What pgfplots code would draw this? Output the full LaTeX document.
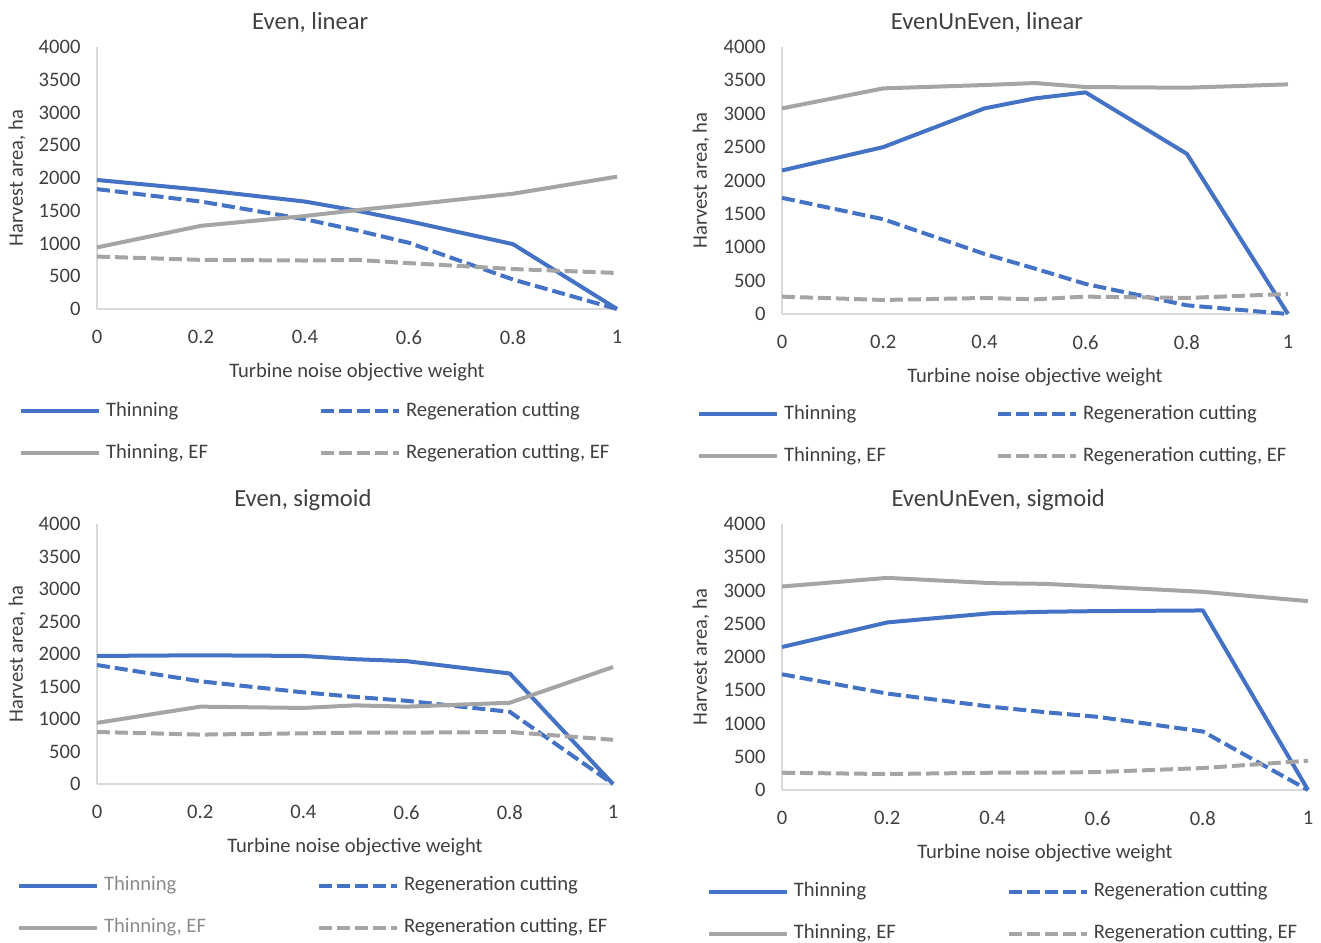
\documentclass[border=0pt]{standalone}
\usepackage{pgfplots}
\pgfplotsset{compat=1.18}
\usepackage{fontspec}
\setmainfont{Carlito}
\definecolor{cblue}{HTML}{4472C4}
\definecolor{cgray}{HTML}{A5A5A5}
\definecolor{ctext}{HTML}{404040}
\definecolor{cleg}{HTML}{8C8C8C}
\definecolor{caxis}{HTML}{D9D9D9}
\newcommand{\lf}{\fontsize{20.6}{24}\selectfont}
\pgfplotsset{
 panel/.style={
  scale only axis, clip=false,
  xmin=0,xmax=1,ymin=0,ymax=4000,
  xtick={0,0.2,0.4,0.6,0.8,1},
  xticklabels={0,0.2,0.4,0.6,0.8,1},
  ytick={0,500,...,4000},
  axis x line=bottom, axis y line=left,
  axis line style={-, draw=caxis, line width=1.5pt},
  major tick length=0pt,
  tick style={draw=none},
  /pgf/number format/assume math mode=true,
  /pgf/number format/1000 sep={},
  ticklabel style={font=\lf, text=ctext},
  yticklabel style={xshift=-13pt},
  xticklabel style={yshift=-18pt},
  label style={font=\lf, text=ctext},
  xlabel={Turbine noise objective weight},
  ylabel={Harvest area, ha},
  title style={font=\fontsize{24.6}{28}\selectfont, text=ctext, anchor=center},
  legend columns=2,
  legend cell align=left,
  legend style={draw=none, fill=none, inner sep=0pt, outer sep=0pt, anchor=west, font=\lf, text=ctext, row sep=24pt, nodes={inner sep=0pt, text height=14pt, text depth=4pt}},
  legend image code/.code={\draw[##1] (0pt,0pt) -- (78pt,0pt); \path (83pt,0pt);},
  every axis plot/.append style={line width=4pt, line join=round},
 },
 thn/.style={cblue, solid},
 reg/.style={cblue, dash pattern=on 13pt off 5pt},
 thnef/.style={cgray, solid},
 regef/.style={cgray, dash pattern=on 13pt off 5pt},
}
\begin{document}
\begin{tikzpicture}
\useasboundingbox (0pt,0pt) rectangle (1321pt,942pt);
% Panel 1
\begin{axis}[panel, at={(97pt,633pt)}, anchor=south west, width=520pt, height=262pt,
  title={Even, linear}, title style={at={(0.41,1.072)}},
  xlabel style={at={(0.5,-0.24)}, anchor=center},
  ylabel style={at={(-0.154,0.5)}, anchor=center},
  legend style={at={(-0.15,-0.47)}}]
\addplot[thn] coordinates {(0,1970) (0.2,1820) (0.4,1640) (0.5,1500) (0.6,1340) (0.8,990) (1,0)};
\addlegendentry{\makebox[213pt][l]{Thinning}}
\addplot[reg] coordinates {(0,1830) (0.2,1640) (0.4,1370) (0.5,1200) (0.6,1010) (0.8,450) (1,0)};
\addlegendentry{Regeneration cutting}
\addplot[thnef] coordinates {(0,940) (0.2,1270) (0.4,1420) (0.5,1510) (0.6,1590) (0.8,1760) (1,2020)};
\addlegendentry{\makebox[213pt][l]{Thinning, EF}}
\addplot[regef] coordinates {(0,800) (0.2,750) (0.4,740) (0.5,750) (0.6,700) (0.8,610) (1,550)};
\addlegendentry{Regeneration cutting, EF}
\end{axis}
% Panel 2
\begin{axis}[panel, at={(782pt,628pt)}, anchor=south west, width=506pt, height=267pt,
  title={EvenUnEven, linear}, title style={at={(0.405,1.071)}},
  xlabel style={at={(0.5,-0.235)}, anchor=center},
  ylabel style={at={(-0.16,0.5)}, anchor=center},
  legend style={at={(-0.168,-0.455)}}]
\addplot[thn] coordinates {(0,2150) (0.2,2500) (0.4,3080) (0.5,3230) (0.6,3320) (0.8,2400) (1,0)};
\addlegendentry{\makebox[212pt][l]{Thinning}}
\addplot[reg] coordinates {(0,1740) (0.2,1420) (0.4,900) (0.5,680) (0.6,450) (0.8,130) (1,0)};
\addlegendentry{Regeneration cutting}
\addplot[thnef] coordinates {(0,3080) (0.2,3380) (0.4,3430) (0.5,3460) (0.6,3400) (0.8,3390) (1,3440)};
\addlegendentry{\makebox[212pt][l]{Thinning, EF}}
\addplot[regef] coordinates {(0,260) (0.2,210) (0.4,240) (0.5,220) (0.6,260) (0.8,240) (1,300)};
\addlegendentry{Regeneration cutting, EF}
\end{axis}
% Panel 3
\begin{axis}[panel, at={(97pt,158pt)}, anchor=south west, width=516pt, height=260pt,
  title={Even, sigmoid}, title style={at={(0.399,1.069)}},
  xlabel style={at={(0.5,-0.242)}, anchor=center},
  ylabel style={at={(-0.155,0.5)}, anchor=center},
  legend style={at={(-0.155,-0.473)}}]
\addplot[thn] coordinates {(0,1970) (0.2,1980) (0.4,1970) (0.5,1920) (0.6,1890) (0.8,1700) (1,0)};
\addlegendentry{\makebox[213pt][l]{\textcolor{cleg}{Thinning}}}
\addplot[reg] coordinates {(0,1830) (0.2,1580) (0.4,1410) (0.5,1340) (0.6,1280) (0.8,1110) (1,0)};
\addlegendentry{Regeneration cutting}
\addplot[thnef] coordinates {(0,940) (0.2,1190) (0.4,1170) (0.5,1210) (0.6,1190) (0.8,1250) (1,1800)};
\addlegendentry{\makebox[213pt][l]{\textcolor{cleg}{Thinning, EF}}}
\addplot[regef] coordinates {(0,800) (0.2,760) (0.4,780) (0.5,790) (0.6,790) (0.8,800) (1,680)};
\addlegendentry{Regeneration cutting, EF}
\end{axis}
% Panel 4
\begin{axis}[panel, at={(782pt,152pt)}, anchor=south west, width=526pt, height=266pt,
  title={EvenUnEven, sigmoid}, title style={at={(0.411,1.068)}},
  xlabel style={at={(0.5,-0.236)}, anchor=center},
  ylabel style={at={(-0.154,0.5)}, anchor=center},
  legend style={at={(-0.143,-0.462)}}]
\addplot[thn] coordinates {(0,2150) (0.2,2520) (0.4,2660) (0.5,2680) (0.6,2690) (0.8,2700) (1,0)};
\addlegendentry{\makebox[213pt][l]{Thinning}}
\addplot[reg] coordinates {(0,1740) (0.2,1450) (0.4,1250) (0.5,1170) (0.6,1100) (0.8,880) (1,0)};
\addlegendentry{Regeneration cutting}
\addplot[thnef] coordinates {(0,3060) (0.2,3190) (0.4,3110) (0.5,3100) (0.6,3060) (0.8,2980) (1,2840)};
\addlegendentry{\makebox[213pt][l]{Thinning, EF}}
\addplot[regef] coordinates {(0,260) (0.2,240) (0.4,260) (0.5,260) (0.6,270) (0.8,330) (1,440)};
\addlegendentry{Regeneration cutting, EF}
\end{axis}
\end{tikzpicture}
\end{document}
